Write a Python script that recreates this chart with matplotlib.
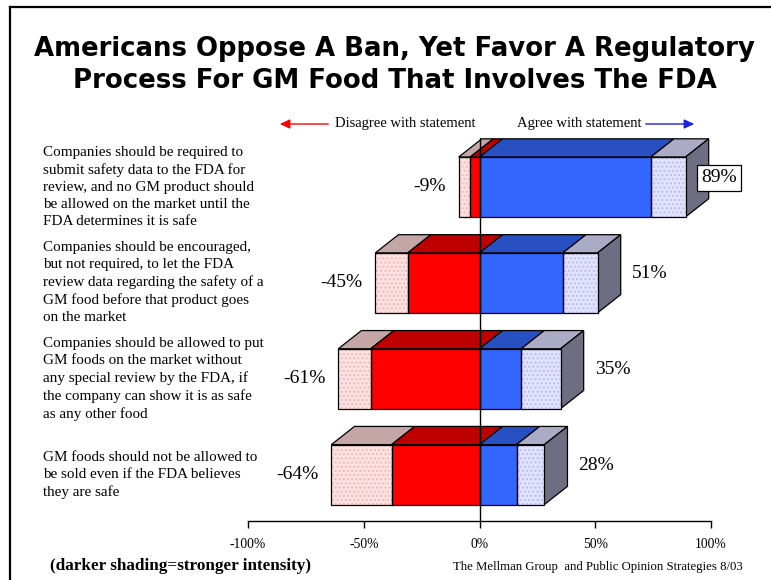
import matplotlib
matplotlib.use("Agg")
import matplotlib.pyplot as plt
from matplotlib.patches import Polygon, FancyArrowPatch
from matplotlib.lines import Line2D
import matplotlib.transforms as mtransforms

# ---------------- data ----------------
statements = [
    "Companies should be required to\nsubmit safety data to the FDA for\nreview, and no GM product should\nbe allowed on the market until the\nFDA determines it is safe",
    "Companies should be encouraged,\nbut not required, to let the FDA\nreview data regarding the safety of a\nGM food before that product goes\non the market",
    "Companies should be allowed to put\nGM foods on the market without\nany special review by the FDA, if\nthe company can show it is as safe\nas any other food",
    "GM foods should not be allowed to\nbe sold even if the FDA believes\nthey are safe",
]
strong_disagree = [4, 31, 47, 38]
somewhat_disagree = [5, 14, 14, 26]
strong_agree = [74, 36, 18, 16]
somewhat_agree = [15, 15, 17, 12]
disagree_labels = ["-9%", "-45%", "-61%", "-64%"]
agree_labels = ["89%", "51%", "35%", "28%"]
xticks = [-100, -50, 0, 50, 100]
xtick_labels = ["-100%", "-50%", "0%", "50%", "100%"]

title = "Americans Oppose A Ban, Yet Favor A Regulatory\nProcess For GM Food That Involves The FDA"
legend_left = "Disagree with statement"
legend_right = "Agree with statement"
note = "(darker shading=stronger intensity)"
source = "The Mellman Group  and Public Opinion Strategies 8/03"

# ---------------- styling ----------------
W, H = 771, 580
serif = "Liberation Serif"
front_cols = ["#FFE2E2", "#FF0000", "#3366FF", "#E2E2FF"]
top_cols = ["#C4A6A6", "#BE0000", "#2850C2", "#ABABC8"]
hatch_cols = ["#F2B8B8", None, None, "#BDBDEE"]
side_col = "#6E6E82"
bar_h = 0.625      # front face height (category units)
depth_x = 10.0     # depth offset in percent units
depth_y = 0.19     # depth offset in category units

fig = plt.figure(figsize=(W / 100, H / 100), dpi=100)
fig.patch.set_facecolor("white")

ax_left, ax_right = 248 / W, 711 / W
ax_bottom, ax_top = 1 - 521 / H, 1 - 138 / H
ax = fig.add_axes([ax_left, ax_bottom, ax_right - ax_left, ax_top - ax_bottom])
ax.set_xlim(-100, 100)
ax.set_ylim(3.484, -0.511)
ax.patch.set_alpha(0)
for s in ["top", "right", "left"]:
    ax.spines[s].set_visible(False)
ax.spines["bottom"].set_linewidth(1.0)
ax.set_yticks([])
ax.set_xticks(xticks)
ax.set_xticklabels(xtick_labels, fontfamily=serif, fontsize=9.8)
ax.tick_params(axis="x", direction="out", length=5, width=1, pad=7)

n = len(statements)
for i in range(n):
    yc = i
    top = yc - bar_h / 2
    bot = yc + bar_h / 2
    edges = [
        -(strong_disagree[i] + somewhat_disagree[i]),
        -strong_disagree[i],
        0,
        strong_agree[i],
        strong_agree[i] + somewhat_agree[i],
    ]
    for k in range(4):
        x0, x1 = edges[k], edges[k + 1]
        # top face
        ax.add_patch(Polygon([(x0, top), (x1, top), (x1 + depth_x, top - depth_y),
                              (x0 + depth_x, top - depth_y)], closed=True,
                             facecolor=top_cols[k], edgecolor="black", lw=0.9, zorder=2))
        # front face
        ax.add_patch(Polygon([(x0, top), (x1, top), (x1, bot), (x0, bot)], closed=True,
                             facecolor=front_cols[k], edgecolor="none", lw=0, zorder=3))
        if hatch_cols[k]:
            ax.add_patch(Polygon([(x0, top), (x1, top), (x1, bot), (x0, bot)], closed=True,
                                 facecolor="none", edgecolor=hatch_cols[k], lw=0,
                                 hatch="....", zorder=3.1))
        ax.add_patch(Polygon([(x0, top), (x1, top), (x1, bot), (x0, bot)], closed=True,
                             facecolor="none", edgecolor="black", lw=0.9, zorder=3.5))
    # right side face
    xr = edges[-1]
    ax.add_patch(Polygon([(xr, top), (xr + depth_x, top - depth_y),
                          (xr + depth_x, bot - depth_y), (xr, bot)], closed=True,
                         facecolor=side_col, edgecolor="black", lw=0.9, zorder=2))

    # value labels
    ax.annotate(disagree_labels[i], xy=(edges[0], yc), xytext=(-9, 0),
                textcoords="offset points", ha="right", va="center",
                fontfamily=serif, fontsize=14, annotation_clip=False, zorder=6)
    if xr + depth_x > 95:
        ax.annotate(agree_labels[i], xy=(xr, yc - depth_y / 2), xytext=(11, 0),
                    textcoords="offset points", ha="left", va="center",
                    fontfamily=serif, fontsize=14, annotation_clip=False, zorder=6,
                    bbox=dict(boxstyle="square,pad=0.22", facecolor="white",
                              edgecolor="black", lw=0.9))
    else:
        ax.annotate(agree_labels[i], xy=(xr + depth_x, yc - depth_y / 2), xytext=(8, 0),
                    textcoords="offset points", ha="left", va="center",
                    fontfamily=serif, fontsize=14, annotation_clip=False, zorder=6)

# zero line
ax.axvline(0, color="black", lw=1.0, zorder=5)

# statement labels
trans = mtransforms.blended_transform_factory(fig.transFigure, ax.transData)
for i, s in enumerate(statements):
    ax.text(43 / W, i, s, transform=trans, ha="left", va="center",
            fontfamily=serif, fontsize=10.9, linespacing=1.4)

# title
fig.text(0.512, 1 - 65 / H, title, ha="center", va="center", fontfamily="DejaVu Sans",
         fontweight="bold", fontsize=18.7, linespacing=1.32)

# legend arrows
ly = 1 - 124 / H
fig.add_artist(FancyArrowPatch((331 / W, ly), (277 / W, ly),
               transform=fig.transFigure, arrowstyle="-|>,head_length=6,head_width=2.8",
               color="#FF0000", lw=1.0, mutation_scale=1))
fig.text(335 / W, ly, legend_left, ha="left", va="center", fontfamily=serif, fontsize=10.5)
fig.text(517 / W, ly, legend_right, ha="left", va="center", fontfamily=serif, fontsize=10.5)
fig.add_artist(FancyArrowPatch((643 / W, ly), (697 / W, ly),
               transform=fig.transFigure, arrowstyle="-|>,head_length=6,head_width=2.8",
               color="#2020E0", lw=1.0, mutation_scale=1))

# footer
fig.text(50 / W, 1 - 566 / H, note, ha="left", va="center", fontfamily=serif,
         fontweight="bold", fontsize=12.3)
fig.text(743 / W, 1 - 567 / H, source, ha="right", va="center", fontfamily=serif,
         fontsize=9.2)

# frame lines (left and top)
fig.add_artist(Line2D([9.5 / W, 9.5 / W], [0, 1 - 7 / H], transform=fig.transFigure,
                      color="black", lw=1.6))
fig.add_artist(Line2D([9.5 / W, 1], [1 - 7 / H, 1 - 7 / H], transform=fig.transFigure,
                      color="black", lw=1.6))

fig.savefig("out.png", dpi=100)
